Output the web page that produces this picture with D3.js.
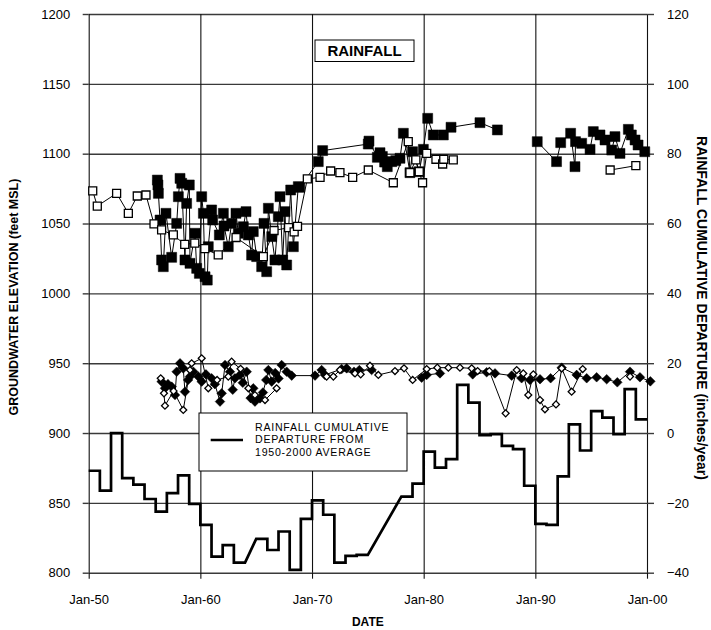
<!DOCTYPE html>
<html>
<head>
<meta charset="utf-8">
<script src="https://cdn.jsdelivr.net/npm/d3@7/dist/d3.min.js"></script>
<style>
  html, body { margin: 0; padding: 0; background: #fff; }
  svg { display: block; font-family: Arial, "Liberation Sans", sans-serif; }
</style>
</head>
<body>
<svg id="chart" width="711" height="630"></svg>
<script>
// ---- Data ----------------------------------------------------------------
// Decade ticks on the date axis (decimal years)
const dateTicks = [1950, 1960, 1970, 1980, 1990, 2000];
const elevTicks = [800, 850, 900, 950, 1000, 1050, 1100, 1150, 1200];
const rainTicks = [-40, -20, 0, 20, 40, 60, 80, 100, 120];

// Rainfall cumulative departure (inches/year), one value per water year; null = no record
const rainYears = d3.range(1950, 2000);
const rainDeparture = [
  -10.8, -16.5, 0.0, -12.9, -14.8, -18.9, -22.5, -17.2, -12.1, -20.3,
  -26.3, -35.4, -32.1, -37.1, null, -30.3, -33.5, -28.2, -39.2, -24.6,
  -19.3, -23.4, -37.1, -35.2, -34.9, null, null, null, -18.2, -14.5,
  -5.3, -9.9, -7.5, 13.8, 8.7, -0.6, -0.3, -3.7, -4.6, -15.1,
  -26.0, -26.3, -12.4, 2.5, -5.0, 6.3, 4.4, -0.3, 12.6, 3.9
];

// Shallow well pair, groundwater elevation (ft MSL): [decimal year, elevation]; null breaks the line
const wellFilledSq = [
  [1956.15,1081.1],[1956.20,1077.6],[1956.24,1071.6],[1956.39,1052.5],[1956.53,1023.9],[1956.68,1019.1],
  [1956.92,1057.3],[1957.43,1025.8],[1957.88,1050.1],[1958.03,1069.2],[1958.18,1082.3],[1958.33,1078.8],
  [1958.62,1023.9],[1958.77,1064.4],[1959.01,1077.6],[1959.07,1021.5],[1959.52,1043.0],[1959.67,1017.9],
  [1959.91,1014.3],[1960.12,1069.2],[1960.27,1057.3],[1960.42,1011.9],[1960.62,1009.5],[1960.71,1033.4],
  [1961.01,1059.7],[1961.10,1052.5],[1961.70,1041.8],[1962.06,1057.3],[1962.12,1048.2],[1962.50,1033.4],
  [1962.80,1050.1],[1963.19,1057.3],[1963.40,1043.0],[1963.85,1047.7],[1964.09,1058.5],[1964.30,1041.8],
  [1964.59,1027.4],[1964.74,1044.2],[1965.04,1026.3],[1965.49,1019.1],[1965.70,1050.1],[1965.94,1015.5],
  [1966.09,1060.9],[1966.39,1040.6],[1966.68,1023.9],[1966.98,1054.9],[1967.13,1069.2],[1967.37,1023.9],
  [1967.58,1058.5],[1967.73,1020.3],[1968.09,1074.0],[1968.33,1033.4],[1968.77,1076.4],[1968.90,1075.9],
  [1970.56,1094.3],[1970.95,1102.2],[1975.04,1106.9],[1975.10,1109.0],[1975.85,1097.4],[1976.09,1100.7],
  [1976.30,1098.0],[1976.50,1094.0],[1976.74,1090.7],[1977.14,1094.3],[1977.50,1095.0],[1977.88,1096.7],
  [1978.18,1114.6],[1978.77,1086.4],[1979.00,1101.4],[1979.60,1087.1],[1979.97,1103.1],[1980.36,1125.3],
  [1980.86,1113.4],[1981.76,1113.4],[1982.45,1118.9],[1985.04,1122.2],[1986.60,1117.0],
  null,
  [1990.17,1108.6],[1991.90,1094.3],[1992.27,1107.9],[1993.16,1114.6],[1993.55,1090.7],[1993.60,1108.6],
  [1994.15,1107.4],[1994.90,1103.1],[1995.19,1115.8],[1995.79,1113.4],[1996.24,1109.8],[1996.84,1102.6],
  [1997.13,1112.2],[1997.58,1100.2],[1998.33,1117.4],[1998.60,1113.4],[1998.93,1109.8],[1999.20,1106.2],
  [1999.80,1101.4]
];
const wellOpenSq = [
  [1950.36,1073.3],[1950.77,1062.5],[1952.50,1071.6],[1953.55,1057.3],[1954.35,1069.7],[1955.13,1070.4],
  [1955.85,1049.7],[1956.53,1045.4],[1957.58,1041.8],[1958.60,1035.0],[1959.50,1036.0],[1960.40,1032.0],
  [1961.60,1027.5],[1963.20,1040.0],[1965.64,1026.3],[1966.60,1045.0],[1967.90,1047.0],[1968.40,1044.0],
  [1968.70,1048.0],[1969.58,1081.9],[1970.72,1083.1],[1971.67,1087.6],[1972.50,1086.4],[1973.64,1083.1],
  [1975.04,1088.3],[1977.28,1079.2],[1978.62,1108.6],[1978.77,1086.4],[1979.30,1095.5],[1979.60,1087.1],
  [1979.90,1079.2],[1980.27,1100.2],[1981.10,1096.0],[1981.70,1092.6],[1981.80,1096.0],[1982.65,1095.5],
  null,
  [1996.70,1088.3],[1999.00,1091.4]
];

// Deep well pair, groundwater elevation (ft MSL)
const wellFilledDm = [
  [1956.53,936.8],[1956.83,932.0],[1957.10,935.0],[1957.43,933.2],[1957.73,927.2],[1957.88,943.9],
  [1958.18,949.9],[1958.47,946.3],[1958.62,929.6],[1958.90,938.0],[1959.07,940.4],[1959.37,943.9],
  [1959.82,940.4],[1960.12,936.8],[1960.50,942.0],[1961.01,939.2],[1961.30,935.0],[1961.76,922.5],
  [1961.91,928.4],[1962.21,948.7],[1962.65,943.9],[1962.90,931.0],[1963.10,939.2],[1963.55,941.6],
  [1963.80,936.0],[1964.15,943.9],[1964.50,925.0],[1964.74,932.0],[1964.89,922.5],[1965.34,924.8],
  [1965.60,929.0],[1965.90,938.0],[1966.09,945.1],[1966.39,936.8],[1966.70,943.0],[1967.00,939.0],
  [1967.28,948.7],[1967.73,943.9],[1968.18,941.1],[1970.27,941.1],[1970.86,945.1],[1971.16,941.6],
  [1972.65,945.8],[1973.10,946.3],[1973.76,943.9],[1974.24,945.1],[1975.34,945.1],
  null,
  [1979.82,939.6],[1980.27,941.6],[1981.46,942.7],
  null,
  [1984.39,942.0],[1985.64,943.5],[1986.39,942.7],[1987.88,941.1],[1988.77,939.2],[1989.52,938.0],
  [1990.42,938.5],[1991.37,939.2],[1992.36,946.8],[1993.70,941.6],[1994.60,939.2],[1995.49,939.9],
  [1996.39,938.5],[1997.34,936.3],[1998.48,943.9],[1999.37,939.9],[2000.30,937.0]
];
const wellOpenDm = [
  [1956.45,939.2],[1956.74,928.4],[1956.83,919.6],[1957.60,930.0],[1958.47,916.5],[1959.07,945.1],
  [1959.22,949.9],[1960.12,953.5],[1960.71,932.0],[1961.50,938.0],[1962.50,940.4],[1962.80,951.1],
  [1963.60,946.0],[1964.30,932.0],[1964.89,927.2],[1965.79,923.6],[1966.83,932.0],
  null,
  [1971.31,940.4],[1971.91,940.4],[1972.50,945.1],[1973.85,942.7],[1974.36,942.0],[1975.19,948.2],
  [1975.94,941.6],[1977.43,944.4],[1978.24,946.3],[1979.01,938.0],[1980.27,945.8],[1981.22,946.8],
  [1982.21,946.8],[1983.25,946.8],[1984.30,946.3],[1984.83,944.4],[1985.88,944.4],[1987.34,914.1],
  [1988.33,945.1],[1988.92,942.7],[1989.37,927.2],[1989.82,942.0],[1990.42,923.6],[1990.86,917.0],
  [1991.85,920.5],[1992.36,946.3],[1993.25,929.6],[1994.24,945.8],
  null,
  [1998.48,940.4]
];

// ---- Layout --------------------------------------------------------------
const plot = { left: 88.7, right: 647, top: 14, bottom: 572.7 };
const svg = d3.select("#chart");

const x = d3.scaleLinear().domain([1950, 2000]).range([plot.left, plot.right]);
const yL = d3.scaleLinear().domain([800, 1200]).range([plot.bottom, plot.top]);
const yR = d3.scaleLinear().domain([-40, 120]).range([plot.bottom, plot.top]);

const plotW = plot.right - plot.left;
const plotH = plot.bottom - plot.top;
const fmtDate = d => "Jan-" + String(d % 100).padStart(2, "0");

// ---- Grid ----------------------------------------------------------------
const gridColor = "#3a3a3a";

svg.append("g")
  .attr("transform", `translate(${plot.left},0)`)
  .call(d3.axisLeft(yL).tickValues(elevTicks).tickSize(-plotW).tickFormat(""))
  .call(g => g.select(".domain").remove())
  .call(g => g.selectAll("line").attr("stroke", gridColor).attr("stroke-width", 1.4));

svg.append("g")
  .attr("transform", `translate(0,${plot.bottom})`)
  .call(d3.axisBottom(x).tickValues(dateTicks).tickSize(-plotH).tickFormat(""))
  .call(g => g.select(".domain").remove())
  .call(g => g.selectAll("line").attr("stroke", "#111").attr("stroke-width", 1.1));

// ---- Axes (ticks and labels) ---------------------------------------------
function styleAxis(g) {
  g.select(".domain").remove();
  g.selectAll("line").attr("stroke", gridColor).attr("stroke-width", 1.4);
  g.selectAll("text").attr("fill", "#000").attr("font-size", 13)
    .attr("font-family", "Arial, 'Liberation Sans', sans-serif");
}

svg.append("g")
  .attr("transform", `translate(${plot.left},0)`)
  .call(d3.axisLeft(yL).tickValues(elevTicks).tickSize(6).tickPadding(12.5).tickFormat(d3.format("d")))
  .call(styleAxis);

svg.append("g")
  .attr("transform", `translate(${plot.right},0)`)
  .call(d3.axisRight(yR).tickValues(rainTicks).tickSize(7).tickPadding(13).tickFormat(d3.format("d")))
  .call(styleAxis);

svg.append("g")
  .attr("transform", `translate(0,${plot.bottom})`)
  .call(d3.axisBottom(x).tickValues(dateTicks).tickSize(6).tickPadding(16.5).tickFormat(fmtDate))
  .call(styleAxis)
  .call(g => g.selectAll("line").attr("stroke", "#111").attr("stroke-width", 1.1));

// ---- Rainfall cumulative departure (annual steps) -------------------------
const rainPts = rainYears.flatMap((yr, i) =>
  rainDeparture[i] == null ? [] : [[yr, rainDeparture[i]], [yr + 1, rainDeparture[i]]]);

svg.append("path")
  .datum(rainPts)
  .attr("fill", "none")
  .attr("stroke", "#000")
  .attr("stroke-width", 2.7)
  .attr("stroke-linejoin", "miter")
  .attr("d", d3.line().x(d => x(d[0])).y(d => yR(d[1])));

// ---- Groundwater hydrographs ---------------------------------------------
const elevLine = d3.line().defined(d => d != null).x(d => x(d[0])).y(d => yL(d[1]));

function drawSeries(data) {
  svg.append("path")
    .datum(data)
    .attr("fill", "none")
    .attr("stroke", "#000")
    .attr("stroke-width", 1)
    .attr("d", elevLine);
}

function drawMarkers(data, opts) {
  const sym = d3.symbol(d3.symbolSquare, opts.area);
  svg.append("g").selectAll("path")
    .data(data.filter(d => d != null))
    .join("path")
    .attr("transform", d => `translate(${x(d[0])},${yL(d[1])}) rotate(${opts.rotate})`)
    .attr("d", sym)
    .attr("fill", opts.filled ? "#000" : "#fff")
    .attr("stroke", "#000")
    .attr("stroke-width", opts.filled ? 0.5 : 1.3);
}

drawSeries(wellFilledSq);
drawSeries(wellOpenSq);
drawSeries(wellFilledDm);
drawSeries(wellOpenDm);

drawMarkers(wellFilledSq, { area: 100, rotate: 0, filled: true });
drawMarkers(wellOpenSq, { area: 64, rotate: 0, filled: false });
drawMarkers(wellFilledDm, { area: 46, rotate: 45, filled: true });
drawMarkers(wellOpenDm, { area: 24, rotate: 45, filled: false });

// ---- Title box -----------------------------------------------------------
svg.append("rect")
  .attr("x", 315).attr("y", 40).attr("width", 99).attr("height", 21.5)
  .attr("fill", "#fff").attr("stroke", "#000").attr("stroke-width", 1);
svg.append("text")
  .attr("x", 364.5).attr("y", 56.3)
  .attr("text-anchor", "middle")
  .attr("font-size", 15).attr("font-weight", "bold")
  .text("RAINFALL");

// ---- Legend --------------------------------------------------------------
const legend = svg.append("g");
legend.append("rect")
  .attr("x", 199).attr("y", 413).attr("width", 208).attr("height", 58)
  .attr("fill", "#fff").attr("stroke", "#000").attr("stroke-width", 1);
legend.append("line")
  .attr("x1", 210.7).attr("x2", 243).attr("y1", 440).attr("y2", 440)
  .attr("stroke", "#000").attr("stroke-width", 2.7);
const legendLines = ["RAINFALL CUMULATIVE", "DEPARTURE FROM", "1950-2000 AVERAGE"];
legend.selectAll("text.leg")
  .data(legendLines)
  .join("text")
  .attr("class", "leg")
  .attr("x", 255)
  .attr("y", (d, i) => 431.2 + i * 12.2)
  .attr("font-size", 10.6)
  .attr("letter-spacing", 0.75)
  .text(d => d);

// ---- Axis titles ---------------------------------------------------------
svg.append("text")
  .attr("transform", `translate(18,297) rotate(-90)`)
  .attr("text-anchor", "middle")
  .attr("font-size", 12.5).attr("font-weight", "bold")
  .text("GROUNDWATER ELEVATION (feet MSL)");

svg.append("text")
  .attr("transform", `translate(697,308) rotate(90)`)
  .attr("text-anchor", "middle")
  .attr("font-size", 14).attr("font-weight", "bold")
  .text("RAINFALL CUMULATIVE DEPARTURE (inches/year)");

svg.append("text")
  .attr("x", (plot.left + plot.right) / 2).attr("y", 626)
  .attr("text-anchor", "middle")
  .attr("font-size", 12).attr("font-weight", "bold")
  .text("DATE");
</script>
</body>
</html>
